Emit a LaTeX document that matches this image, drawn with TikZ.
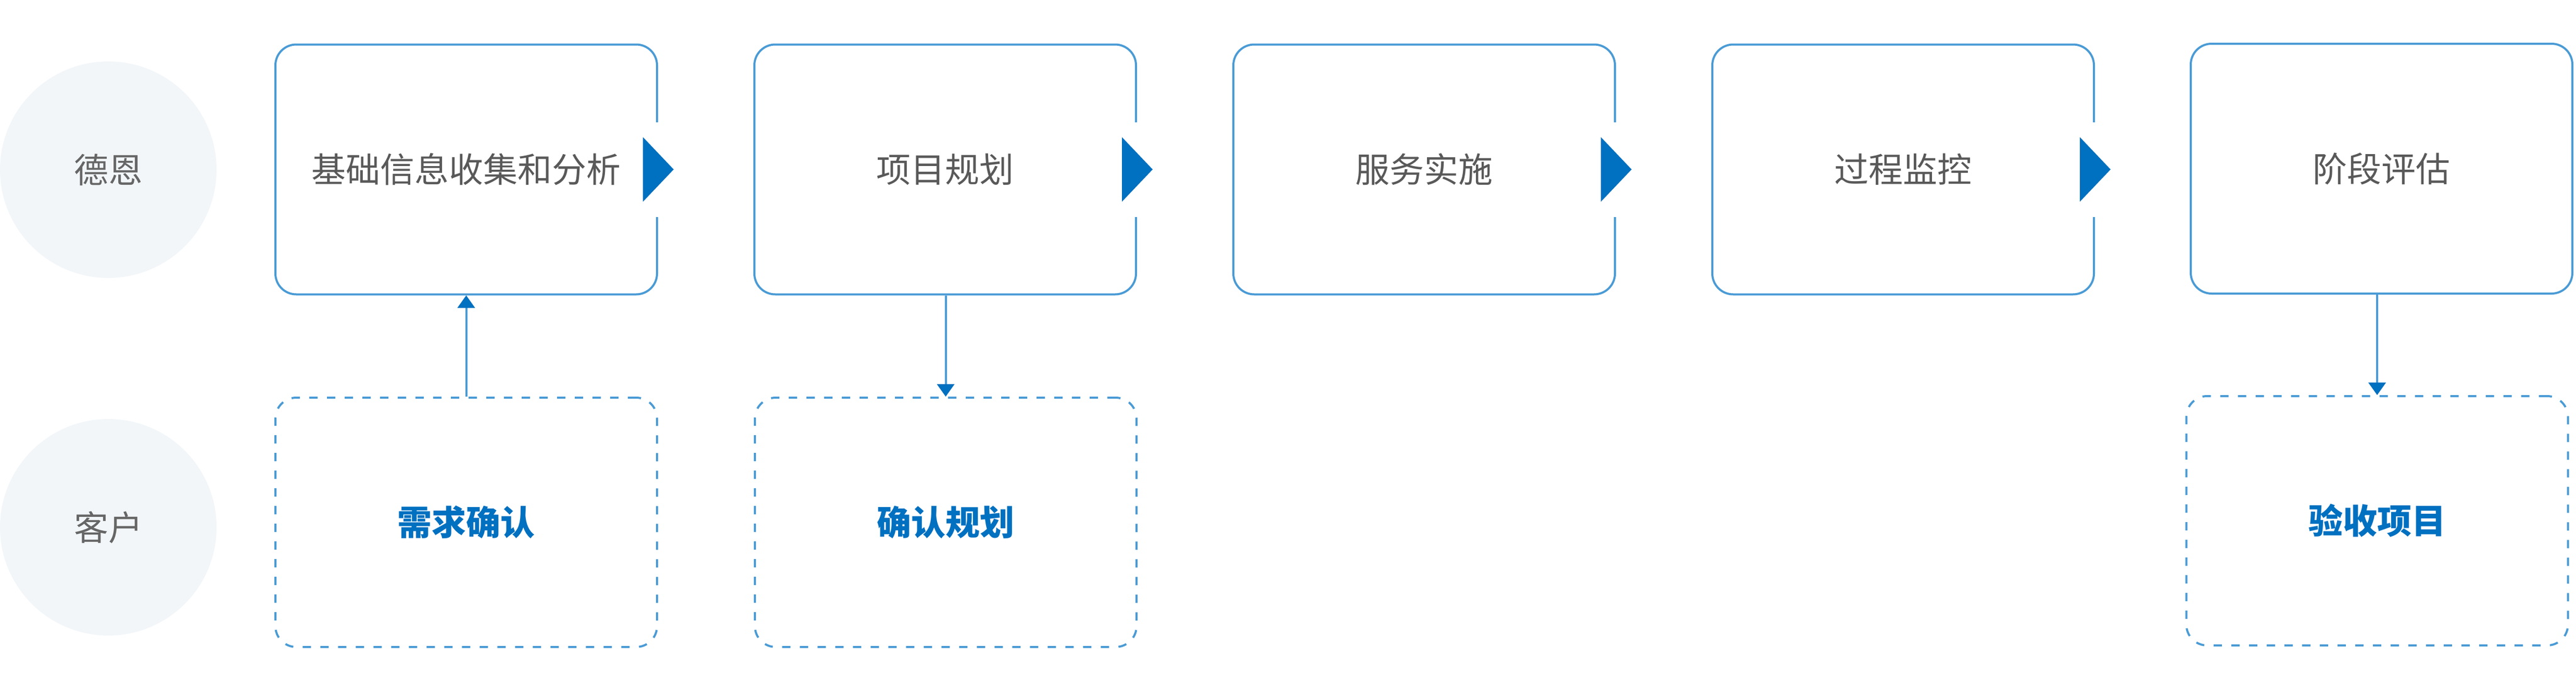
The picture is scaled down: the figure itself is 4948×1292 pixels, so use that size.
\documentclass[tikz,border=0pt]{standalone}
\usepackage{fontspec}
\newfontfamily\cjk{Noto Sans CJK SC}
\usetikzlibrary{arrows.meta,calc}
\definecolor{linec}{RGB}{74,155,213}
\definecolor{darkblue}{RGB}{0,112,192}
\definecolor{circfill}{RGB}{242,246,249}
\definecolor{textgray}{RGB}{89,89,89}
\definecolor{rolegray}{RGB}{102,102,102}
\tikzset{
  x=0.5pt, y=-0.5pt,
  stagebox/.style={draw=linec, line width=2pt, rounded corners=20pt, fill=white,
    minimum width=366.5pt, minimum height=240pt, inner sep=0pt,
    font=\cjk\fontsize{33}{40}\selectfont, text=textgray},
  clientbox/.style={draw=linec, line width=2pt, rounded corners=20pt,
    dash pattern=on 8pt off 9pt,
    minimum width=366.5pt, minimum height=239.5pt, inner sep=0pt,
    font=\cjk\bfseries\fontsize{33}{40}\selectfont, text=darkblue},
  rolecirc/.style={circle, fill=circfill, minimum size=208pt, inner sep=0pt,
    font=\cjk\fontsize{33}{40}\selectfont, text=rolegray},
  flow/.style={draw=linec, line width=2pt,
    -{Triangle[width=16.5pt,length=12pt,color=darkblue]}},
  gapcover/.style={fill=white},
  steptri/.style={fill=darkblue}
}
\begin{document}
\begin{tikzpicture}
\useasboundingbox (0,0) rectangle (4948,1292);
% role circles
\node[rolecirc] (r1) at (208,326) {德恩};
\node[rolecirc] (r2) at (208,1013) {客户};
% stage boxes
\node[stagebox] (b1) at (895.5,325.5) {基础信息收集和分析};
\node[stagebox] (b2) at (1815.5,325.5) {项目规划};
\node[stagebox] (b3) at (2735.5,325.5) {服务实施};
\node[stagebox] (b4) at (3655.5,325.5) {过程监控};
\node[stagebox] (b5) at (4574.5,324) {阶段评估};
% client boxes
\node[clientbox] (c1) at (895.5,1003.5) {需求确认};
\node[clientbox] (c2) at (1816.5,1003.5) {确认规划};
\node[clientbox] (c5) at (4566,1000.5) {验收项目};
% step triangles on right edges
\foreach \b in {b1,b2,b3,b4}{
  \fill[gapcover] ($(\b.east)+(-6,-91)$) rectangle ($(\b.east)+(6,91)$);
  \fill[steptri] ($(\b.east)+(-29,-62)$) -- ($(\b.east)+(30,0)$) -- ($(\b.east)+(-29,62)$) -- cycle;
}
% connectors
\draw[flow] (c1.north) -- (c1.north |- b1.south);
\draw[flow] (b2.south -| c2.north) -- (c2.north);
\draw[flow] (b5.south -| c5.north) -- (c5.north);
\end{tikzpicture}
\end{document}
